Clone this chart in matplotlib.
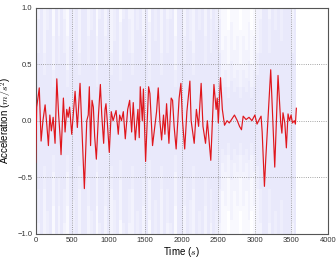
import numpy as np
import matplotlib
matplotlib.use("Agg")
import matplotlib.pyplot as plt

# ---- data ----
red_t = [0, 15, 50, 75, 100, 130, 155, 175, 195, 215, 240, 266, 290, 315, 335, 348,
         380, 403, 426, 445, 465, 494, 515, 540, 571, 608, 635, 667, 700, 720, 735,
         752, 772, 790, 808, 831, 860, 886, 905, 931, 950, 963, 980, 1008, 1035,
         1060, 1101, 1131, 1150, 1175, 1200, 1227, 1260, 1287, 1314, 1336, 1364,
         1400, 1418, 1432, 1460, 1475, 1505, 1546, 1564, 1600, 1655, 1678, 1700,
         1724, 1750, 1769, 1792, 1824, 1855, 1874, 1895, 1923, 1964, 1988, 2010,
         2040, 2070, 2111, 2128, 2170, 2200, 2230, 2265, 2290, 2325, 2350, 2370,
         2397, 2440, 2470, 2485, 2500, 2530, 2555, 2585, 2620, 2650, 2690, 2721,
         2760, 2790, 2817, 2840, 2880, 2920, 2960, 3000, 3030, 3060, 3085, 3100,
         3131, 3149, 3217, 3272, 3317, 3354, 3370, 3385, 3410, 3431, 3454, 3475,
         3495, 3515, 3540, 3555, 3568]
red_v = [-0.37, 0.12, 0.29, -0.18, 0.0, 0.14, -0.05, -0.22, 0.05, -0.09, 0.03, -0.2,
         0.37, 0.05, -0.14, -0.3, 0.2, -0.1, 0.1, 0.03, 0.12, -0.12, 0.05, 0.26,
         -0.06, 0.33, -0.1, -0.6, 0.0, 0.05, 0.3, -0.22, 0.18, 0.12, -0.14, -0.34,
         0.05, 0.32, 0.05, -0.2, 0.1, 0.15, 0.0, -0.28, 0.08, 0.0, 0.09, -0.12,
         0.05, 0.0, 0.08, -0.16, 0.1, 0.18, -0.1, 0.16, -0.17, 0.1, -0.15, 0.3,
         0.0, 0.28, -0.36, 0.3, 0.24, -0.22, 0.08, 0.29, 0.0, -0.17, 0.05, -0.12,
         0.15, -0.2, 0.2, 0.18, -0.05, -0.25, 0.2, 0.33, 0.0, -0.25, 0.08, 0.35,
         0.0, -0.2, 0.1, -0.05, 0.33, -0.05, -0.2, 0.0, -0.15, -0.35, 0.32, 0.1,
         0.2, -0.02, 0.38, 0.1, -0.04, 0.0, -0.02, 0.02, 0.05, 0.0, -0.05, -0.08,
         0.04, 0.01, 0.03, 0.0, 0.05, -0.03, 0.01, 0.04, -0.1, -0.58, -0.34, 0.45,
         -0.41, 0.4, -0.02, -0.11, 0.07, -0.02, -0.24, 0.06, 0.0, 0.05, -0.02, 0.0,
         -0.03, 0.11]

spread_t = list(range(0, 3600, 40))
spread_v = [1.2, 0.6, 2.0, 0.4, 0.8, 1.5, 0.3, 1.0, 0.5, 2.0, 0.6, 0.3, 1.2, 0.7,
            1.6, 0.4, 1.0, 2.5, 0.5, 0.8, 1.4, 0.3, 0.9, 1.8, 0.5, 1.2, 0.4, 0.7,
            1.5, 0.35, 0.9, 2.0, 0.6, 0.4, 1.3, 0.8, 2.2, 0.5, 1.0, 0.35, 1.6, 0.7,
            1.1, 0.4, 2.0, 0.6, 0.9, 1.5, 0.3, 1.0, 1.8, 0.5, 1.2, 0.7, 0.4, 1.4,
            0.8, 2.0, 0.5, 1.1, 0.6, 1.3, 0.8, 0.6,
            0.25, 0.3, 0.2, 0.35, 0.25, 0.3, 0.2, 0.3, 0.25, 0.35, 0.2, 0.3, 0.4,
            0.6,
            1.0, 1.5, 0.6, 1.2, 0.8, 1.8, 0.7, 1.4, 1.0, 2.0, 0.6, 1.2]

x_ticks = [0, 500, 1000, 1500, 2000, 2500, 3000, 3500, 4000]
y_ticks = [-1.0, -0.5, 0.0, 0.5, 1.0]

# ---- plot ----
plt.rcParams['mathtext.fontset'] = 'cm'
plt.rcParams['font.family'] = ['Liberation Sans', 'DejaVu Sans']

fig = plt.figure(figsize=(3.36, 2.59), dpi=100)
ax = fig.add_axes([0.106, 0.097, 0.870, 0.874])

st = np.array(spread_t)
sv = np.array(spread_v)
for k in [1.0, 1.5, 2.5, 4.0]:
    ax.fill_between(st, -k * sv, k * sv, step='mid', color=(0.5, 0.5, 0.95),
                    alpha=0.045, linewidth=0)

ax.plot(red_t, red_v, color='#e0161c', lw=0.85, zorder=3)

ax.set_xlim(0, 4000)
ax.set_ylim(-1.0, 1.0)
ax.set_xticks(x_ticks)
ax.set_yticks(y_ticks)
ax.set_xticklabels([str(v) for v in x_ticks])
ax.set_yticklabels(['\u22121.0', '\u22120.5', '0.0', '0.5', '1.0'])
ax.tick_params(length=0, labelsize=5.5, pad=2.5, colors='#333333')
ax.grid(True, linestyle=':', color='#888888', linewidth=0.6)
for s in ax.spines.values():
    s.set_color('#555555')
    s.set_linewidth(0.8)

ax.set_xlabel('Time ($s$)', fontsize=7, labelpad=0.5)
ax.set_ylabel('Acceleration ($m/s^2$)', fontsize=7, labelpad=2)

fig.savefig('out.png', dpi=100)
